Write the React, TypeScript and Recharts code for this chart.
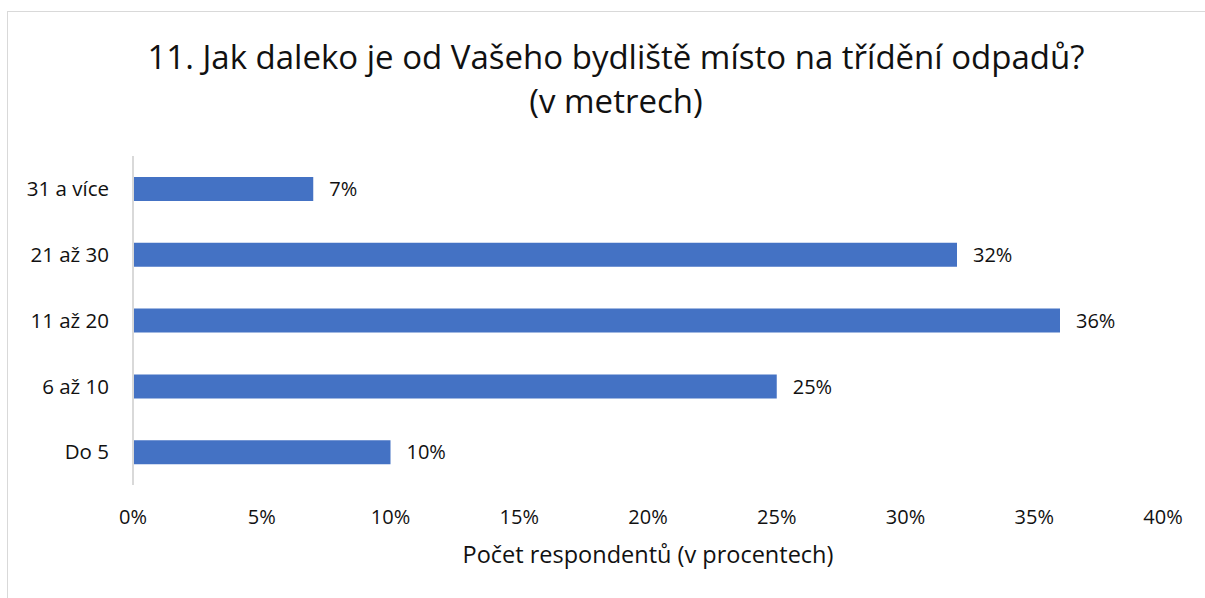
import React from "react";
import { BarChart, Bar, XAxis, YAxis, LabelList } from "recharts";

const categories = ["31 a více", "21 až 30", "11 až 20", "6 až 10", "Do 5"];
const values = [7, 32, 36, 25, 10];
const xTicks = [0, 5, 10, 15, 20, 25, 30, 35, 40];

const data = categories.map((c, i) => ({ name: c, value: values[i] }));
const FONT = "'Open Sans', sans-serif";

export default function App() {
  return (
    <div style={{ position: "absolute", left: 7, top: 11, width: 1198, height: 588, border: "1px solid #d9d9d9", fontFamily: FONT, background: "#fff" }}>
      <div style={{ position: "absolute", left: 0, top: 23, width: 1216, textAlign: "center", fontSize: 33, lineHeight: "44px", color: "#111" }}>
        11. Jak daleko je od Vašeho bydliště místo na třídění odpadů?
        <br />
        (v metrech)
      </div>
      <BarChart
        width={1198}
        height={588}
        data={data}
        layout="vertical"
        margin={{ top: 144, right: 43, bottom: 85, left: 0 }}
        barCategoryGap={21}
      >
        <XAxis
          type="number"
          domain={[0, 40]}
          ticks={xTicks}
          tickFormatter={(v) => `${v}%`}
          axisLine={false}
          tickLine={false}
          tickSize={0}
          tickMargin={25}
          interval={0}
          tick={{ fill: "#111", fontSize: 20, fontFamily: FONT }}
          label={{ value: "Počet respondentů (v procentech)", position: "bottom", offset: 31, fill: "#111", fontSize: 23.5, fontFamily: FONT }}
        />
        <YAxis
          type="category"
          dataKey="name"
          width={125}
          axisLine={{ stroke: "#d9d9d9", strokeWidth: 2 }}
          tickLine={false}
          tickSize={0}
          tickMargin={24}
          tick={{ fill: "#111", fontSize: 20.5, fontFamily: FONT }}
        />
        <Bar dataKey="value" fill="#4472C4" isAnimationActive={false}>
          <LabelList dataKey="value" position="right" offset={16} formatter={(v: any) => `${v}%`} fill="#111" fontSize={20} fontFamily={FONT} />
        </Bar>
      </BarChart>
    </div>
  );
}
